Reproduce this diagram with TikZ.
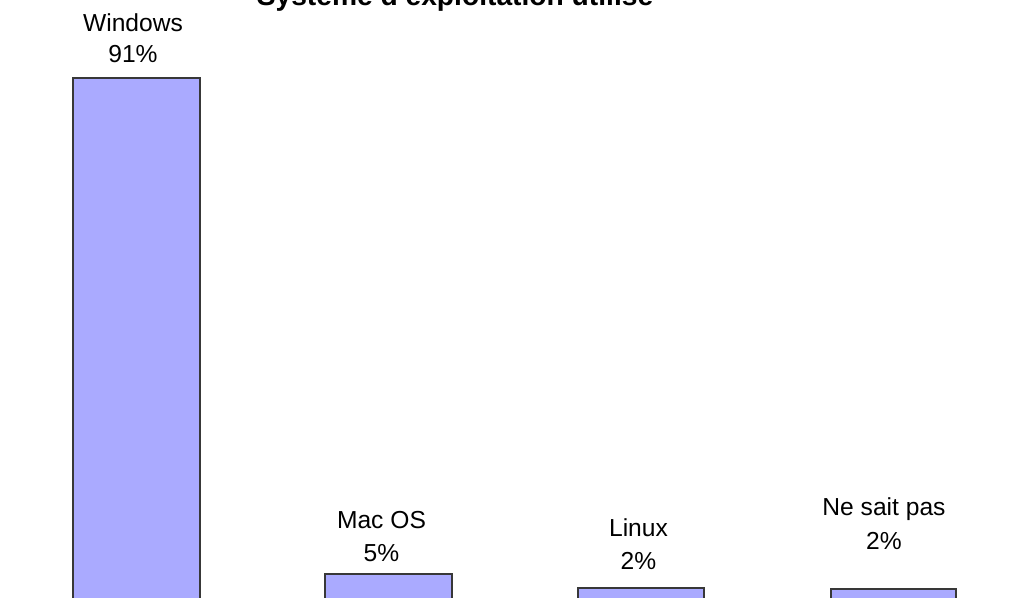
\documentclass[tikz,border=0pt]{standalone}
\usepackage{fontspec}
\setmainfont{Liberation Sans}
\usepackage{tikz}
\usepackage{xcolor}
\definecolor{barfill}{HTML}{AAAAFF}
\definecolor{baredge}{HTML}{383838}

\begin{document}
\begin{tikzpicture}[x=0.5pt, y=0.5pt,
  bar/.style={fill=barfill, draw=baredge, line width=0.7pt},
  lbl/.style={anchor=base, inner sep=0pt, font=\fontsize{12.3}{15}\selectfont},
  ttl/.style={anchor=base, inner sep=0pt, font=\fontsize{14.1}{17}\selectfont\bfseries}]
  \useasboundingbox (0,0) rectangle (1013,598);
  \clip (0,0) rectangle (1013,598);
  % title, cut at the top edge
  \node[ttl] (title) at (455,592) {Système d'exploitation utilisé};
  % bars
  \draw[bar] (73,-5) rectangle (200,520);
  \draw[bar] (325,-5) rectangle (452,24);
  \draw[bar] (578,-5) rectangle (704,10);
  \draw[bar] (831,-5) rectangle (956,9);
  % labels
  \node[lbl] (win) at (133,566) {Windows};
  \node[lbl] (winval) at (133,535) {91\%};
  \node[lbl] (mac) at (381.5,69) {Mac OS};
  \node[lbl] (macval) at (381.5,36) {5\%};
  \node[lbl] (lin) at (638.5,61) {Linux};
  \node[lbl] (linval) at (638.5,28) {2\%};
  \node[lbl] (nsp) at (884,82) {Ne sait pas};
  \node[lbl] (nspval) at (884,48) {2\%};
\end{tikzpicture}
\end{document}
